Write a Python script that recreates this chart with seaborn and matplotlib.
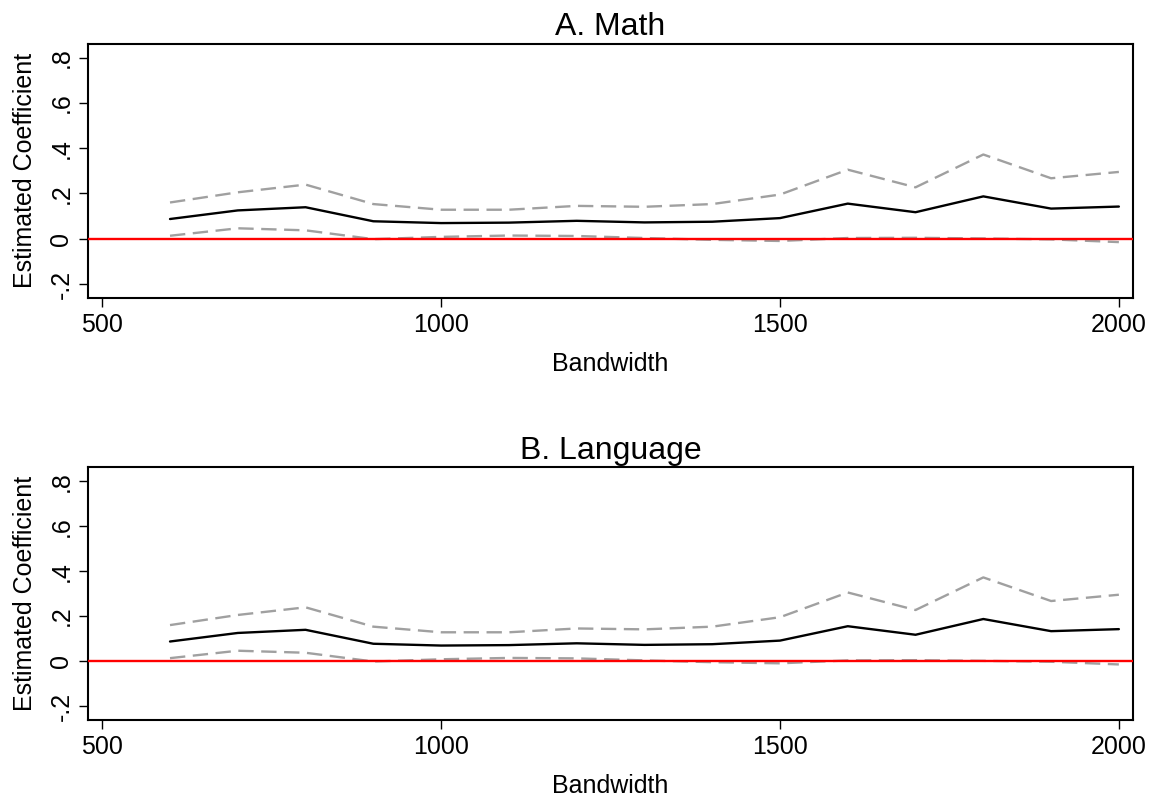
import numpy as np
import pandas as pd
import matplotlib
matplotlib.use("Agg")
import matplotlib.pyplot as plt
import seaborn as sns

bandwidth = [600, 700, 800, 900, 1000, 1100, 1200, 1300, 1400, 1500, 1600, 1700, 1800, 1900, 2000]

math_coef  = [0.087, 0.125, 0.139, 0.077, 0.069, 0.071, 0.079, 0.072, 0.075, 0.091, 0.155, 0.117, 0.187, 0.133, 0.142]
math_upper = [0.160, 0.205, 0.239, 0.153, 0.128, 0.128, 0.145, 0.141, 0.153, 0.195, 0.305, 0.227, 0.372, 0.267, 0.295]
math_lower = [0.013, 0.046, 0.037, -0.002, 0.008, 0.014, 0.012, 0.003, -0.005, -0.010, 0.003, 0.004, 0.001, -0.003, -0.015]

lang_coef  = [0.087, 0.125, 0.139, 0.077, 0.069, 0.071, 0.079, 0.072, 0.075, 0.091, 0.155, 0.117, 0.187, 0.133, 0.142]
lang_upper = [0.160, 0.205, 0.239, 0.153, 0.128, 0.128, 0.145, 0.141, 0.153, 0.195, 0.305, 0.227, 0.372, 0.267, 0.295]
lang_lower = [0.013, 0.046, 0.037, -0.002, 0.008, 0.014, 0.012, 0.003, -0.005, -0.010, 0.003, 0.004, 0.001, -0.003, -0.015]

titles = ["A. Math", "B. Language"]
xticks = [500, 1000, 1500, 2000]
yticks = [-0.2, 0, 0.2, 0.4, 0.6, 0.8]
ytick_labels = ["-.2", "0", ".2", ".4", ".6", ".8"]

sns.set_theme(style="white")
plt.rcParams['font.family'] = ['Liberation Sans', 'DejaVu Sans']
plt.rcParams['text.color'] = 'black'
plt.rcParams['axes.labelcolor'] = 'black'
plt.rcParams['xtick.color'] = 'black'
plt.rcParams['ytick.color'] = 'black'

fig = plt.figure(figsize=(11.58, 8.0), dpi=100)
ax1 = fig.add_axes([0.076, 0.6275, 0.9025, 0.318])
ax2 = fig.add_axes([0.076, 0.100, 0.9025, 0.316])

panels = [
    (ax1, titles[0], math_coef, math_upper, math_lower),
    (ax2, titles[1], lang_coef, lang_upper, lang_lower),
]

for ax, title, coef, up, lo in panels:
    df = pd.DataFrame({"Bandwidth": bandwidth, "coef": coef, "upper": up, "lower": lo})
    sns.lineplot(data=df, x="Bandwidth", y="upper", ax=ax, color="#a0a0a0", lw=1.7,
                 linestyle=(0, (6.5, 3.2)))
    sns.lineplot(data=df, x="Bandwidth", y="lower", ax=ax, color="#a0a0a0", lw=1.7,
                 linestyle=(0, (6.5, 3.2)))
    sns.lineplot(data=df, x="Bandwidth", y="coef", ax=ax, color="black", lw=1.7)
    ax.axhline(0, color="red", lw=1.7, zorder=5)
    ax.set_xlim(479, 2021)
    ax.set_ylim(-0.262, 0.862)
    ax.set_xticks(xticks)
    ax.set_xticklabels([str(t) for t in xticks], fontsize=18)
    ax.set_yticks(yticks)
    ax.set_yticklabels(ytick_labels, fontsize=18, rotation=90, va="center")
    ax.set_xlabel("Bandwidth", fontsize=18, labelpad=11)
    ax.set_ylabel("Estimated Coefficient", fontsize=18, labelpad=9)
    ax.set_title(title, fontsize=23, pad=6, color="black")
    for s in ax.spines.values():
        s.set_color("black")
        s.set_linewidth(1.5)
    ax.tick_params(axis="both", which="major", direction="out", length=6.5, width=1.0,
                   color="black", labelcolor="black",
                   left=True, bottom=True, top=False, right=False, pad=4)

fig.savefig("out.png", dpi=100, facecolor="white")
